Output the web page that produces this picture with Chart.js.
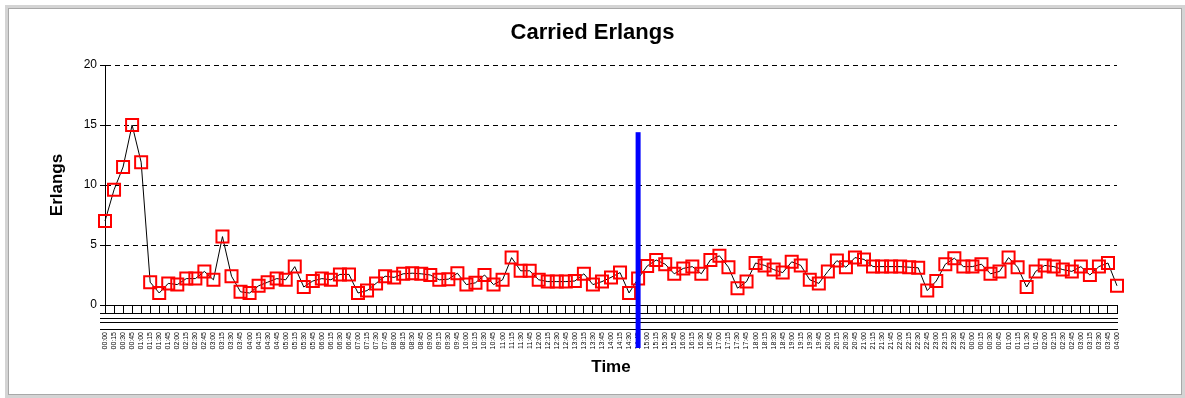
<!DOCTYPE html>
<html lang="en">
<head>
<meta charset="UTF-8">
<title>Carried Erlangs</title>
<script src="https://cdn.jsdelivr.net/npm/chart.js@4.4.1/dist/chart.umd.min.js"></script>
<style>
  html, body { margin: 0; padding: 0; background: #fff; }
  #wrap { position: relative; width: 1185px; height: 398px; }
  #frame {
    position: absolute; left: 5px; top: 5px; width: 1174px; height: 387px;
    border: 3px solid #d4d4d4;
    box-shadow: inset 1px 1px 0 #a8a8a8, inset -1px -1px 0 #a8a8a8;
    pointer-events: none;
  }
</style>
</head>
<body>
<div id="wrap">
  <canvas id="erlangChart"></canvas>
  <div id="frame"></div>
</div>

<script>
// time of each sample (x categories)
const timeLabels = [
  '00:00','00:15','00:30','00:45','01:00','01:15','01:30','01:45',
  '02:00','02:15','02:30','02:45','03:00','03:15','03:30','03:45',
  '04:00','04:15','04:30','04:45','05:00','05:15','05:30','05:45',
  '06:00','06:15','06:30','06:45','07:00','07:15','07:30','07:45',
  '08:00','08:15','08:30','08:45','09:00','09:15','09:30','09:45',
  '10:00','10:15','10:30','10:45','11:00','11:15','11:30','11:45',
  '12:00','12:15','12:30','12:45','13:00','13:15','13:30','13:45',
  '14:00','14:15','14:30','14:45','15:00','15:15','15:30','15:45',
  '16:00','16:15','16:30','16:45','17:00','17:15','17:30','17:45',
  '18:00','18:15','18:30','18:45','19:00','19:15','19:30','19:45',
  '20:00','20:15','20:30','20:45','21:00','21:15','21:30','21:45',
  '22:00','22:15','22:30','22:45','23:00','23:15','23:30','23:45',
  '00:00','00:15','00:30','00:45','01:00','01:15','01:30','01:45',
  '02:00','02:15','02:30','02:45','03:00','03:15','03:30','03:45',
  '04:00'
];

// carried traffic in erlangs
const carriedErlangs = [
  7.0, 9.6, 11.5, 15.0, 11.9, 1.9, 1.0, 1.8, 1.7, 2.2,
  2.2, 2.8, 2.1, 5.7, 2.4, 1.1, 1.0, 1.6, 1.9, 2.2,
  2.1, 3.2, 1.5, 2.0, 2.2, 2.1, 2.55, 2.55, 1.0, 1.2,
  1.8, 2.4, 2.3, 2.6, 2.65, 2.6, 2.5, 2.1, 2.15, 2.65,
  1.7, 1.85, 2.5, 1.7, 2.1, 3.95, 2.85, 2.85, 2.1, 1.95,
  1.95, 1.95, 2.0, 2.6, 1.7, 1.95, 2.3, 2.7, 1.0, 2.2,
  3.25, 3.75, 3.4, 2.6, 3.05, 3.2, 2.6, 3.75, 4.1, 3.15,
  1.4, 1.95, 3.5, 3.3, 2.95, 2.7, 3.6, 3.3, 2.1, 1.8,
  2.8, 3.7, 3.15, 3.95, 3.8, 3.2, 3.2, 3.2, 3.2, 3.15,
  3.1, 1.2, 2.0, 3.4, 3.9, 3.2, 3.2, 3.4, 2.6, 2.8,
  3.95, 3.15, 1.5, 2.8, 3.3, 3.2, 2.95, 2.8, 3.2, 2.5,
  3.2, 3.5, 1.6
];

const yTicks = [0, 5, 10, 15, 20];

// current-time marker (blue bar)
const markerIndex = 59;
const markerTop = 14.4;

const axisRules = [8, 13, 17, 24];

const font = "'Liberation Sans', Arial, sans-serif";

const extras = {
  id: 'extras',
  afterDraw(chart) {
    const { ctx, chartArea, scales: { x, y } } = chart;
    ctx.save();
    ctx.strokeStyle = '#000';
    ctx.lineWidth = 1;
    axisRules.forEach(off => {
      const yy = Math.round(chartArea.bottom + off) + 0.5;
      ctx.beginPath();
      ctx.moveTo(chartArea.left - 5, yy);
      ctx.lineTo(chartArea.right + 1, yy);
      ctx.stroke();
    });
    const mx = x.getPixelForValue(markerIndex);
    const top = y.getPixelForValue(markerTop);
    ctx.fillStyle = '#0000ff';
    ctx.fillRect(mx - 2.5, top, 5, chartArea.bottom + 43 - top);
    ctx.restore();
  }
};

new Chart('erlangChart', {
  type: 'line',
  data: {
    labels: timeLabels,
    datasets: [{
      data: carriedErlangs,
      borderColor: '#000',
      borderWidth: 1,
      tension: 0,
      pointStyle: 'rect',
      pointRadius: 8.5,
      pointBorderWidth: 2,
      pointBorderColor: '#ff0000',
      pointBackgroundColor: 'rgba(0,0,0,0)'
    }]
  },
  options: {
    responsive: true,
    maintainAspectRatio: false,
    animation: false,
    layout: { padding: 0 },
    plugins: {
      legend: { display: false },
      tooltip: { enabled: false },
      title: {
        display: true,
        text: 'Carried Erlangs',
        color: '#000',
        font: { family: font, size: 22, weight: 'bold' },
        padding: { top: 20, bottom: 18.6 }
      }
    },
    scales: {
      x: {
        offset: false,
        afterFit: s => { s.height = 93; },
        grid: { drawOnChartArea: false, drawTicks: true, tickLength: 8, tickColor: '#000' },
        border: { color: '#000', width: 1 },
        ticks: {
          autoSkip: false, minRotation: 90, maxRotation: 90, padding: 19,
          color: '#000', font: { family: font, size: 7 }
        },
        title: {
          display: true, text: 'Time', color: '#000',
          font: { family: font, size: 17, weight: 'bold' },
          padding: { top: 0, bottom: 20.8 }
        }
      },
      y: {
        min: 0, max: 20,
        afterFit: s => { s.width = 105; },
        afterBuildTicks: s => { s.ticks = yTicks.map(v => ({ value: v })); },
        grid: { color: '#000', lineWidth: 1, tickLength: 5, tickColor: '#000' },
        border: { color: '#000', width: 1, dash: [5, 4] },
        ticks: {
          padding: 3, color: '#000',
          font: { family: font, size: 12 }
        },
        title: {
          display: true, text: 'Erlangs', color: '#000',
          font: { family: font, size: 17, weight: 'bold' },
          padding: { top: 46.8, bottom: 0 }
        }
      },
      // empty right-hand gutter so the title stays centred on the whole panel
      gutter: {
        position: 'right',
        min: 0, max: 20,
        afterFit: s => { s.width = 68; },
        grid: { display: false },
        border: { display: false },
        ticks: { display: false }
      }
    }
  },
  plugins: [extras]
});
</script>
</body>
</html>
